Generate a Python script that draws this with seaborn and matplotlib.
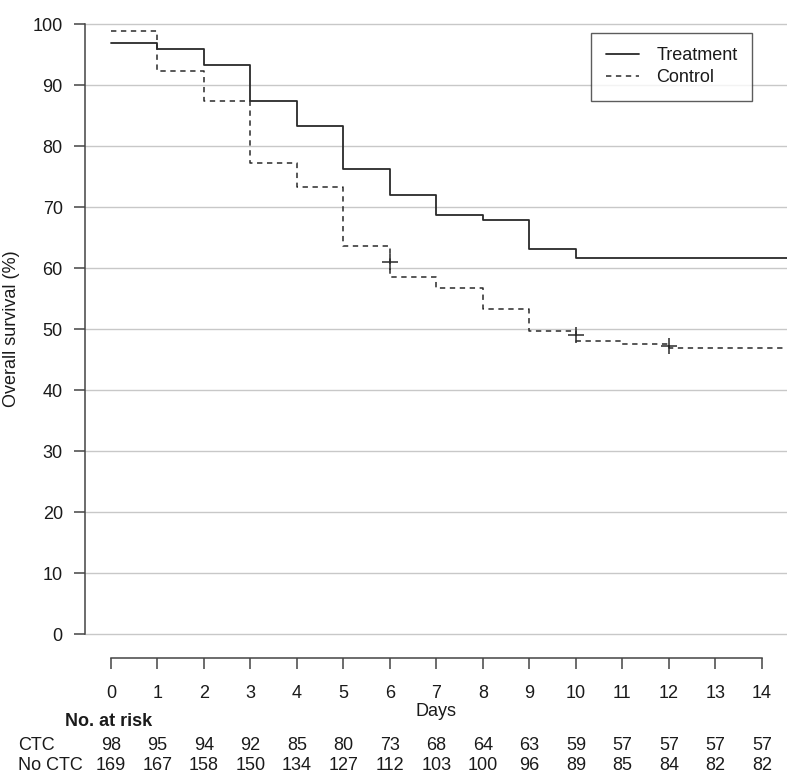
import matplotlib
matplotlib.use('Agg')
import matplotlib.pyplot as plt
import matplotlib.transforms as mtransforms
import seaborn as sns
import pandas as pd

# 生存曲线数据
trt_time = [0, 1, 2, 3, 4, 5, 6, 7, 8, 9, 10, 14.55]
trt_surv = [97.0, 96.0, 93.3, 87.5, 83.3, 76.3, 72.1, 68.7, 68.0, 63.2, 61.7, 61.7]

ctrl_time = [0, 1, 2, 3, 4, 5, 6, 7, 8, 9, 10, 11, 12, 14.55]
ctrl_surv = [98.9, 92.3, 87.5, 77.3, 73.3, 63.7, 58.5, 56.7, 53.4, 49.7, 48.1, 47.6, 47.0, 47.0]

# 删失标记
cens_time = [6, 10, 12]
cens_surv = [61.0, 49.0, 47.3]

# 风险人数表
risk_days = list(range(15))
risk_ctc = [98, 95, 94, 92, 85, 80, 73, 68, 64, 63, 59, 57, 57, 57, 57]
risk_noctc = [169, 167, 158, 150, 134, 127, 112, 103, 100, 96, 89, 85, 84, 82, 82]

sns.set_theme(style='white')
plt.rcParams['font.family'] = ['Liberation Sans', 'DejaVu Sans']

W, H = 787, 773
fig = plt.figure(figsize=(W / 100, H / 100), dpi=100)
ax = fig.add_axes([85 / W, 1 - 658.3 / H, 1 - 85 / W, 658.3 / H])

line_col = '#2a2a2a'
txt_col = '#1a1a1a'
df_trt = pd.DataFrame({'time': trt_time, 'surv': trt_surv})
df_ctrl = pd.DataFrame({'time': ctrl_time, 'surv': ctrl_surv})

sns.lineplot(data=df_trt, x='time', y='surv', drawstyle='steps-post', color=line_col,
             linewidth=1.3, ax=ax, label='Treatment', estimator=None, sort=False)
sns.lineplot(data=df_ctrl, x='time', y='surv', drawstyle='steps-post', color=line_col,
             linewidth=1.1, ax=ax, label='Control', estimator=None, sort=False)
ax.lines[-1].set_dashes((3.5, 3))
ax.plot(cens_time, cens_surv, linestyle='none', marker='+', markersize=12,
        markeredgewidth=1.1, color=line_col)

ax.set_xlim(-0.559, 14.54)
ax.set_ylim(-3.94, 104.0)
ax.set_yticks(range(0, 101, 10))
ax.set_xticks(risk_days)
ax.yaxis.grid(True, color='#c8c8c8', linewidth=1.0)
ax.xaxis.grid(False)

for side in ['top', 'right']:
    ax.spines[side].set_visible(False)
ax.spines['left'].set_bounds(0, 100)
ax.spines['bottom'].set_bounds(0, 14)
for side in ['left', 'bottom']:
    ax.spines[side].set_color('#444444')
    ax.spines[side].set_linewidth(1.1)

ax.tick_params(axis='both', direction='out', colors='#444444', labelcolor=txt_col,
               labelsize=13, bottom=True, left=True)
ax.tick_params(axis='y', length=8, width=1.1, pad=8)
ax.tick_params(axis='x', length=8, width=1.1, pad=11)

ax.set_xlabel('')
ax.set_ylabel('Overall survival (%)', fontsize=13, color=txt_col)
ax.yaxis.set_label_coords(-0.092, 0.5)

leg = ax.legend(loc='upper right', bbox_to_anchor=(752 / W, 1 - 33 / H),
                bbox_transform=fig.transFigure, fontsize=13, frameon=True,
                fancybox=False, handlelength=1.85, handletextpad=0.95,
                borderpad=0.8, labelspacing=0.28, borderaxespad=0)
leg.get_frame().set_edgecolor('#333333')
leg.get_frame().set_linewidth(1.0)
for t in leg.get_texts():
    t.set_color(txt_col)

# 风险表
fig.text(436 / W, 1 - 711 / H, 'Days', ha='center', va='center', fontsize=13,
         color=txt_col)
fig.text(65 / W, 1 - 721 / H, 'No. at risk', ha='left', va='center', fontsize=13,
         fontweight='bold', color=txt_col)
trans = mtransforms.blended_transform_factory(ax.transData, fig.transFigure)
row_y = [1 - 745 / H, 1 - 765 / H]
for label, vals, y in zip(['CTC', 'No CTC'], [risk_ctc, risk_noctc], row_y):
    fig.text(18 / W, y, label, ha='left', va='center', fontsize=13, color=txt_col)
    for d, v in zip(risk_days, vals):
        ax.text(d, y, str(v), transform=trans, ha='center', va='center',
                fontsize=13, color=txt_col, clip_on=False)

fig.savefig('out.png', dpi=100)
